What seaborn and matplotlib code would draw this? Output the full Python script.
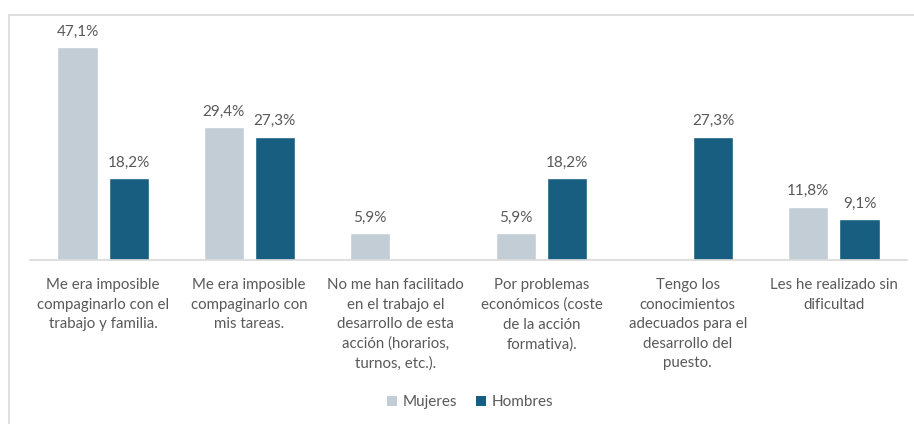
import matplotlib
matplotlib.use("Agg")
import matplotlib.pyplot as plt
import seaborn as sns
import pandas as pd
from matplotlib.patches import Rectangle, Patch

categories = [
    "Me era imposible\ncompaginarlo con el\ntrabajo y familia.",
    "Me era imposible\ncompaginarlo con\nmis tareas.",
    "No me han facilitado\nen el trabajo el\ndesarrollo de esta\nacción (horarios,\nturnos, etc.).",
    "Por problemas\neconómicos (coste\nde la acción\nformativa).",
    "Tengo los\nconocimientos\nadecuados para el\ndesarrollo del\npuesto.",
    "Les he realizado sin\ndificultad",
]
mujeres = [47.1, 29.4, 5.9, 5.9, 0.0, 11.8]
hombres = [18.2, 27.3, 0.0, 18.2, 27.3, 9.1]
series = ["Mujeres", "Hombres"]
colors = ["#C3CDD6", "#175E80"]

df = pd.DataFrame({
    "cat": categories * 2,
    "serie": [series[0]] * len(categories) + [series[1]] * len(categories),
    "valor": mujeres + hombres,
})

sns.set_theme(style="white")
plt.rcParams["font.family"] = ["Lato", "DejaVu Sans"]
txt = "#595959"

fig = plt.figure(figsize=(9.14, 4.24), dpi=100)
ax = fig.add_axes([30 / 914, (424 - 260) / 424, 877 / 914, (260 - 34) / 424])
sns.barplot(data=df, x="cat", y="valor", hue="serie", palette=colors,
            ax=ax, width=0.7, gap=0.215, legend=False, saturation=1)

for cont in ax.containers:
    labels = [("" if v == 0 else f"{v:.1f}%".replace(".", ",")) for v in cont.datavalues]
    ax.bar_label(cont, labels=labels, padding=6, color=txt, fontsize=11)

ax.set_ylim(0, 50)
ax.set_xlim(-0.5, len(categories) - 0.5)
ax.set_xlabel("")
ax.set_ylabel("")
ax.set_yticks([])
ax.tick_params(axis="x", length=0, pad=13, labelsize=10.8, labelcolor=txt)
for lab in ax.get_xticklabels():
    lab.set_linespacing(1.5)
for s in ["top", "right", "left"]:
    ax.spines[s].set_visible(False)
ax.spines["bottom"].set_color("#D9D9D9")
ax.spines["bottom"].set_linewidth(1.2)

handles = [Patch(facecolor=c, edgecolor="none") for c in colors]
fig.legend(handles, series, loc="center", bbox_to_anchor=(470 / 914, 1 - 402 / 424),
           ncol=2, frameon=False, fontsize=11, labelcolor=txt,
           handlelength=0.65, handleheight=0.65, handletextpad=0.4, columnspacing=1.2)

fig.patches.append(Rectangle((9 / 914, -0.1), 1.2, 1 - 15 / 424 + 0.1,
                             transform=fig.transFigure, fill=False,
                             edgecolor="#D9D9D9", linewidth=1.2))

fig.savefig("out.png", dpi=100)
